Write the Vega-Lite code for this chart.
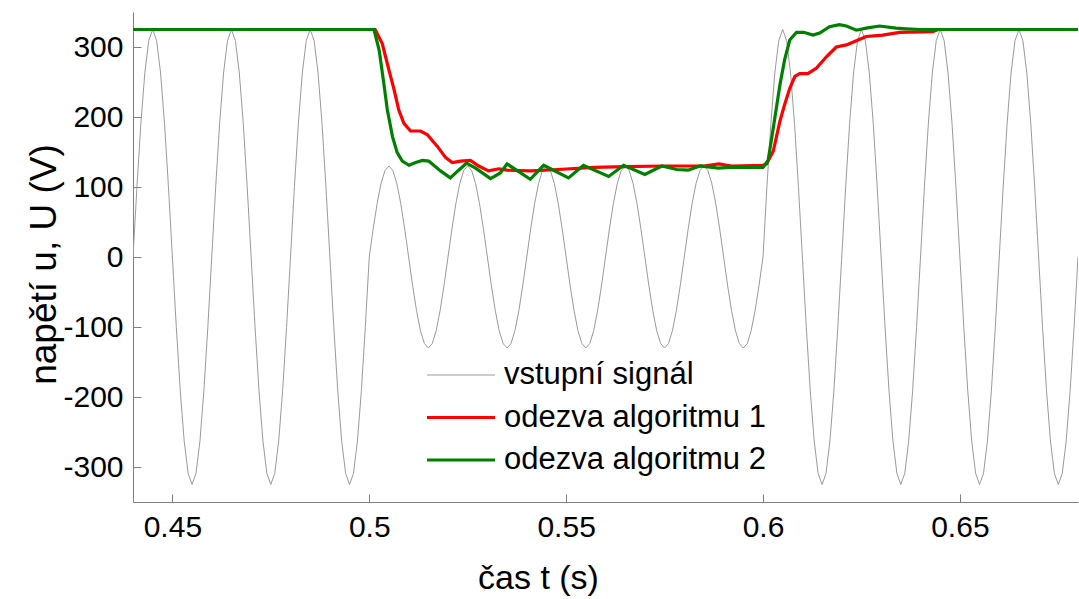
{
"$schema": "https://vega.github.io/schema/vega-lite/v6.json",
"width": 945, "height": 490,
"autosize": {"type": "none"},
"padding": {"left": 133, "top": 12, "right": 1, "bottom": 97},
"background": "white",
"config": {
 "font": "Liberation Sans",
 "view": {"stroke": null},
 "axis": {"grid": false, "domainColor": "#808080", "tickColor": "#808080", "tickSize": -8, "labelFont": "Liberation Sans", "labelFontSize": 30, "labelColor": "black", "titleFont": "Liberation Sans", "titleFontSize": 34, "titleFontWeight": "normal", "titleColor": "black"}
},
"data": {"values": [
{"t":0.440,"u":0,"s":"vstupní signál"},{"t":0.441,"u":100.4,"s":"vstupní signál"},{"t":0.442,"u":191,"s":"vstupní signál"},{"t":0.443,"u":262.9,"s":"vstupní signál"},{"t":0.444,"u":309.1,"s":"vstupní signál"},{"t":0.445,"u":325,"s":"vstupní signál"},{"t":0.446,"u":309.1,"s":"vstupní signál"},{"t":0.447,"u":262.9,"s":"vstupní signál"},{"t":0.448,"u":191,"s":"vstupní signál"},{"t":0.449,"u":100.4,"s":"vstupní signál"},
{"t":0.450,"u":0,"s":"vstupní signál"},{"t":0.451,"u":-100.4,"s":"vstupní signál"},{"t":0.452,"u":-191,"s":"vstupní signál"},{"t":0.453,"u":-262.9,"s":"vstupní signál"},{"t":0.454,"u":-309.1,"s":"vstupní signál"},{"t":0.455,"u":-325,"s":"vstupní signál"},{"t":0.456,"u":-309.1,"s":"vstupní signál"},{"t":0.457,"u":-262.9,"s":"vstupní signál"},{"t":0.458,"u":-191,"s":"vstupní signál"},{"t":0.459,"u":-100.4,"s":"vstupní signál"},
{"t":0.460,"u":0,"s":"vstupní signál"},{"t":0.461,"u":100.4,"s":"vstupní signál"},{"t":0.462,"u":191,"s":"vstupní signál"},{"t":0.463,"u":262.9,"s":"vstupní signál"},{"t":0.464,"u":309.1,"s":"vstupní signál"},{"t":0.465,"u":325,"s":"vstupní signál"},{"t":0.466,"u":309.1,"s":"vstupní signál"},{"t":0.467,"u":262.9,"s":"vstupní signál"},{"t":0.468,"u":191,"s":"vstupní signál"},{"t":0.469,"u":100.4,"s":"vstupní signál"},
{"t":0.470,"u":0,"s":"vstupní signál"},{"t":0.471,"u":-100.4,"s":"vstupní signál"},{"t":0.472,"u":-191,"s":"vstupní signál"},{"t":0.473,"u":-262.9,"s":"vstupní signál"},{"t":0.474,"u":-309.1,"s":"vstupní signál"},{"t":0.475,"u":-325,"s":"vstupní signál"},{"t":0.476,"u":-309.1,"s":"vstupní signál"},{"t":0.477,"u":-262.9,"s":"vstupní signál"},{"t":0.478,"u":-191,"s":"vstupní signál"},{"t":0.479,"u":-100.4,"s":"vstupní signál"},
{"t":0.480,"u":0,"s":"vstupní signál"},{"t":0.481,"u":100.4,"s":"vstupní signál"},{"t":0.482,"u":191,"s":"vstupní signál"},{"t":0.483,"u":262.9,"s":"vstupní signál"},{"t":0.484,"u":309.1,"s":"vstupní signál"},{"t":0.485,"u":325,"s":"vstupní signál"},{"t":0.486,"u":309.1,"s":"vstupní signál"},{"t":0.487,"u":262.9,"s":"vstupní signál"},{"t":0.488,"u":191,"s":"vstupní signál"},{"t":0.489,"u":100.4,"s":"vstupní signál"},
{"t":0.490,"u":0,"s":"vstupní signál"},{"t":0.491,"u":-100.4,"s":"vstupní signál"},{"t":0.492,"u":-191,"s":"vstupní signál"},{"t":0.493,"u":-262.9,"s":"vstupní signál"},{"t":0.494,"u":-309.1,"s":"vstupní signál"},{"t":0.495,"u":-325,"s":"vstupní signál"},{"t":0.496,"u":-309.1,"s":"vstupní signál"},{"t":0.497,"u":-262.9,"s":"vstupní signál"},{"t":0.498,"u":-191,"s":"vstupní signál"},{"t":0.499,"u":-100.4,"s":"vstupní signál"},
{"t":0.500,"u":0,"s":"vstupní signál"},{"t":0.501,"u":40.2,"s":"vstupní signál"},{"t":0.502,"u":76.4,"s":"vstupní signál"},{"t":0.503,"u":105.2,"s":"vstupní signál"},{"t":0.504,"u":123.6,"s":"vstupní signál"},{"t":0.505,"u":130,"s":"vstupní signál"},{"t":0.506,"u":123.6,"s":"vstupní signál"},{"t":0.507,"u":105.2,"s":"vstupní signál"},{"t":0.508,"u":76.4,"s":"vstupní signál"},{"t":0.509,"u":40.2,"s":"vstupní signál"},
{"t":0.510,"u":0,"s":"vstupní signál"},{"t":0.511,"u":-40.2,"s":"vstupní signál"},{"t":0.512,"u":-76.4,"s":"vstupní signál"},{"t":0.513,"u":-105.2,"s":"vstupní signál"},{"t":0.514,"u":-123.6,"s":"vstupní signál"},{"t":0.515,"u":-130,"s":"vstupní signál"},{"t":0.516,"u":-123.6,"s":"vstupní signál"},{"t":0.517,"u":-105.2,"s":"vstupní signál"},{"t":0.518,"u":-76.4,"s":"vstupní signál"},{"t":0.519,"u":-40.2,"s":"vstupní signál"},
{"t":0.520,"u":0,"s":"vstupní signál"},{"t":0.521,"u":40.2,"s":"vstupní signál"},{"t":0.522,"u":76.4,"s":"vstupní signál"},{"t":0.523,"u":105.2,"s":"vstupní signál"},{"t":0.524,"u":123.6,"s":"vstupní signál"},{"t":0.525,"u":130,"s":"vstupní signál"},{"t":0.526,"u":123.6,"s":"vstupní signál"},{"t":0.527,"u":105.2,"s":"vstupní signál"},{"t":0.528,"u":76.4,"s":"vstupní signál"},{"t":0.529,"u":40.2,"s":"vstupní signál"},
{"t":0.530,"u":0,"s":"vstupní signál"},{"t":0.531,"u":-40.2,"s":"vstupní signál"},{"t":0.532,"u":-76.4,"s":"vstupní signál"},{"t":0.533,"u":-105.2,"s":"vstupní signál"},{"t":0.534,"u":-123.6,"s":"vstupní signál"},{"t":0.535,"u":-130,"s":"vstupní signál"},{"t":0.536,"u":-123.6,"s":"vstupní signál"},{"t":0.537,"u":-105.2,"s":"vstupní signál"},{"t":0.538,"u":-76.4,"s":"vstupní signál"},{"t":0.539,"u":-40.2,"s":"vstupní signál"},
{"t":0.540,"u":0,"s":"vstupní signál"},{"t":0.541,"u":40.2,"s":"vstupní signál"},{"t":0.542,"u":76.4,"s":"vstupní signál"},{"t":0.543,"u":105.2,"s":"vstupní signál"},{"t":0.544,"u":123.6,"s":"vstupní signál"},{"t":0.545,"u":130,"s":"vstupní signál"},{"t":0.546,"u":123.6,"s":"vstupní signál"},{"t":0.547,"u":105.2,"s":"vstupní signál"},{"t":0.548,"u":76.4,"s":"vstupní signál"},{"t":0.549,"u":40.2,"s":"vstupní signál"},
{"t":0.550,"u":0,"s":"vstupní signál"},{"t":0.551,"u":-40.2,"s":"vstupní signál"},{"t":0.552,"u":-76.4,"s":"vstupní signál"},{"t":0.553,"u":-105.2,"s":"vstupní signál"},{"t":0.554,"u":-123.6,"s":"vstupní signál"},{"t":0.555,"u":-130,"s":"vstupní signál"},{"t":0.556,"u":-123.6,"s":"vstupní signál"},{"t":0.557,"u":-105.2,"s":"vstupní signál"},{"t":0.558,"u":-76.4,"s":"vstupní signál"},{"t":0.559,"u":-40.2,"s":"vstupní signál"},
{"t":0.560,"u":0,"s":"vstupní signál"},{"t":0.561,"u":40.2,"s":"vstupní signál"},{"t":0.562,"u":76.4,"s":"vstupní signál"},{"t":0.563,"u":105.2,"s":"vstupní signál"},{"t":0.564,"u":123.6,"s":"vstupní signál"},{"t":0.565,"u":130,"s":"vstupní signál"},{"t":0.566,"u":123.6,"s":"vstupní signál"},{"t":0.567,"u":105.2,"s":"vstupní signál"},{"t":0.568,"u":76.4,"s":"vstupní signál"},{"t":0.569,"u":40.2,"s":"vstupní signál"},
{"t":0.570,"u":0,"s":"vstupní signál"},{"t":0.571,"u":-40.2,"s":"vstupní signál"},{"t":0.572,"u":-76.4,"s":"vstupní signál"},{"t":0.573,"u":-105.2,"s":"vstupní signál"},{"t":0.574,"u":-123.6,"s":"vstupní signál"},{"t":0.575,"u":-130,"s":"vstupní signál"},{"t":0.576,"u":-123.6,"s":"vstupní signál"},{"t":0.577,"u":-105.2,"s":"vstupní signál"},{"t":0.578,"u":-76.4,"s":"vstupní signál"},{"t":0.579,"u":-40.2,"s":"vstupní signál"},
{"t":0.580,"u":0,"s":"vstupní signál"},{"t":0.581,"u":40.2,"s":"vstupní signál"},{"t":0.582,"u":76.4,"s":"vstupní signál"},{"t":0.583,"u":105.2,"s":"vstupní signál"},{"t":0.584,"u":123.6,"s":"vstupní signál"},{"t":0.585,"u":130,"s":"vstupní signál"},{"t":0.586,"u":123.6,"s":"vstupní signál"},{"t":0.587,"u":105.2,"s":"vstupní signál"},{"t":0.588,"u":76.4,"s":"vstupní signál"},{"t":0.589,"u":40.2,"s":"vstupní signál"},
{"t":0.590,"u":0,"s":"vstupní signál"},{"t":0.591,"u":-40.2,"s":"vstupní signál"},{"t":0.592,"u":-76.4,"s":"vstupní signál"},{"t":0.593,"u":-105.2,"s":"vstupní signál"},{"t":0.594,"u":-123.6,"s":"vstupní signál"},{"t":0.595,"u":-130,"s":"vstupní signál"},{"t":0.596,"u":-123.6,"s":"vstupní signál"},{"t":0.597,"u":-105.2,"s":"vstupní signál"},{"t":0.598,"u":-76.4,"s":"vstupní signál"},{"t":0.599,"u":-40.2,"s":"vstupní signál"},
{"t":0.600,"u":0,"s":"vstupní signál"},{"t":0.601,"u":100.4,"s":"vstupní signál"},{"t":0.602,"u":191,"s":"vstupní signál"},{"t":0.603,"u":262.9,"s":"vstupní signál"},{"t":0.604,"u":309.1,"s":"vstupní signál"},{"t":0.605,"u":325,"s":"vstupní signál"},{"t":0.606,"u":309.1,"s":"vstupní signál"},{"t":0.607,"u":262.9,"s":"vstupní signál"},{"t":0.608,"u":191,"s":"vstupní signál"},{"t":0.609,"u":100.4,"s":"vstupní signál"},
{"t":0.610,"u":0,"s":"vstupní signál"},{"t":0.611,"u":-100.4,"s":"vstupní signál"},{"t":0.612,"u":-191,"s":"vstupní signál"},{"t":0.613,"u":-262.9,"s":"vstupní signál"},{"t":0.614,"u":-309.1,"s":"vstupní signál"},{"t":0.615,"u":-325,"s":"vstupní signál"},{"t":0.616,"u":-309.1,"s":"vstupní signál"},{"t":0.617,"u":-262.9,"s":"vstupní signál"},{"t":0.618,"u":-191,"s":"vstupní signál"},{"t":0.619,"u":-100.4,"s":"vstupní signál"},
{"t":0.620,"u":0,"s":"vstupní signál"},{"t":0.621,"u":100.4,"s":"vstupní signál"},{"t":0.622,"u":191,"s":"vstupní signál"},{"t":0.623,"u":262.9,"s":"vstupní signál"},{"t":0.624,"u":309.1,"s":"vstupní signál"},{"t":0.625,"u":325,"s":"vstupní signál"},{"t":0.626,"u":309.1,"s":"vstupní signál"},{"t":0.627,"u":262.9,"s":"vstupní signál"},{"t":0.628,"u":191,"s":"vstupní signál"},{"t":0.629,"u":100.4,"s":"vstupní signál"},
{"t":0.630,"u":0,"s":"vstupní signál"},{"t":0.631,"u":-100.4,"s":"vstupní signál"},{"t":0.632,"u":-191,"s":"vstupní signál"},{"t":0.633,"u":-262.9,"s":"vstupní signál"},{"t":0.634,"u":-309.1,"s":"vstupní signál"},{"t":0.635,"u":-325,"s":"vstupní signál"},{"t":0.636,"u":-309.1,"s":"vstupní signál"},{"t":0.637,"u":-262.9,"s":"vstupní signál"},{"t":0.638,"u":-191,"s":"vstupní signál"},{"t":0.639,"u":-100.4,"s":"vstupní signál"},
{"t":0.640,"u":0,"s":"vstupní signál"},{"t":0.641,"u":100.4,"s":"vstupní signál"},{"t":0.642,"u":191,"s":"vstupní signál"},{"t":0.643,"u":262.9,"s":"vstupní signál"},{"t":0.644,"u":309.1,"s":"vstupní signál"},{"t":0.645,"u":325,"s":"vstupní signál"},{"t":0.646,"u":309.1,"s":"vstupní signál"},{"t":0.647,"u":262.9,"s":"vstupní signál"},{"t":0.648,"u":191,"s":"vstupní signál"},{"t":0.649,"u":100.4,"s":"vstupní signál"},
{"t":0.650,"u":0,"s":"vstupní signál"},{"t":0.651,"u":-100.4,"s":"vstupní signál"},{"t":0.652,"u":-191,"s":"vstupní signál"},{"t":0.653,"u":-262.9,"s":"vstupní signál"},{"t":0.654,"u":-309.1,"s":"vstupní signál"},{"t":0.655,"u":-325,"s":"vstupní signál"},{"t":0.656,"u":-309.1,"s":"vstupní signál"},{"t":0.657,"u":-262.9,"s":"vstupní signál"},{"t":0.658,"u":-191,"s":"vstupní signál"},{"t":0.659,"u":-100.4,"s":"vstupní signál"},
{"t":0.660,"u":0,"s":"vstupní signál"},{"t":0.661,"u":100.4,"s":"vstupní signál"},{"t":0.662,"u":191,"s":"vstupní signál"},{"t":0.663,"u":262.9,"s":"vstupní signál"},{"t":0.664,"u":309.1,"s":"vstupní signál"},{"t":0.665,"u":325,"s":"vstupní signál"},{"t":0.666,"u":309.1,"s":"vstupní signál"},{"t":0.667,"u":262.9,"s":"vstupní signál"},{"t":0.668,"u":191,"s":"vstupní signál"},{"t":0.669,"u":100.4,"s":"vstupní signál"},
{"t":0.670,"u":0,"s":"vstupní signál"},{"t":0.671,"u":-100.4,"s":"vstupní signál"},{"t":0.672,"u":-191,"s":"vstupní signál"},{"t":0.673,"u":-262.9,"s":"vstupní signál"},{"t":0.674,"u":-309.1,"s":"vstupní signál"},{"t":0.675,"u":-325,"s":"vstupní signál"},{"t":0.676,"u":-309.1,"s":"vstupní signál"},{"t":0.677,"u":-262.9,"s":"vstupní signál"},{"t":0.678,"u":-191,"s":"vstupní signál"},{"t":0.679,"u":-100.4,"s":"vstupní signál"},
{"t":0.680,"u":0,"s":"vstupní signál"},
{"t":0.44,"u":325,"s":"odezva algoritmu 1"},{"t":0.5015,"u":325,"s":"odezva algoritmu 1"},{"t":0.5033,"u":305,"s":"odezva algoritmu 1"},{"t":0.505,"u":267,"s":"odezva algoritmu 1"},{"t":0.5063,"u":239,"s":"odezva algoritmu 1"},{"t":0.5075,"u":210,"s":"odezva algoritmu 1"},{"t":0.5088,"u":191,"s":"odezva algoritmu 1"},{"t":0.5105,"u":180,"s":"odezva algoritmu 1"},{"t":0.513,"u":180,"s":"odezva algoritmu 1"},{"t":0.5147,"u":175,"s":"odezva algoritmu 1"},{"t":0.5173,"u":158,"s":"odezva algoritmu 1"},{"t":0.5194,"u":142,"s":"odezva algoritmu 1"},{"t":0.5211,"u":135,"s":"odezva algoritmu 1"},{"t":0.5232,"u":137,"s":"odezva algoritmu 1"},{"t":0.5257,"u":138,"s":"odezva algoritmu 1"},{"t":0.5278,"u":130,"s":"odezva algoritmu 1"},{"t":0.5303,"u":123,"s":"odezva algoritmu 1"},{"t":0.5329,"u":126,"s":"odezva algoritmu 1"},{"t":0.535,"u":124,"s":"odezva algoritmu 1"},{"t":0.541,"u":123,"s":"odezva algoritmu 1"},{"t":0.548,"u":125,"s":"odezva algoritmu 1"},{"t":0.557,"u":128,"s":"odezva algoritmu 1"},{"t":0.565,"u":129,"s":"odezva algoritmu 1"},{"t":0.575,"u":130,"s":"odezva algoritmu 1"},{"t":0.585,"u":130,"s":"odezva algoritmu 1"},{"t":0.5888,"u":133,"s":"odezva algoritmu 1"},{"t":0.592,"u":130,"s":"odezva algoritmu 1"},{"t":0.6,"u":131,"s":"odezva algoritmu 1"},{"t":0.6009,"u":133,"s":"odezva algoritmu 1"},{"t":0.6026,"u":151,"s":"odezva algoritmu 1"},{"t":0.6043,"u":194,"s":"odezva algoritmu 1"},{"t":0.6055,"u":218,"s":"odezva algoritmu 1"},{"t":0.6068,"u":241,"s":"odezva algoritmu 1"},{"t":0.6081,"u":258,"s":"odezva algoritmu 1"},{"t":0.6093,"u":262,"s":"odezva algoritmu 1"},{"t":0.6114,"u":262,"s":"odezva algoritmu 1"},{"t":0.6136,"u":270,"s":"odezva algoritmu 1"},{"t":0.6161,"u":286,"s":"odezva algoritmu 1"},{"t":0.6186,"u":300,"s":"odezva algoritmu 1"},{"t":0.6212,"u":303,"s":"odezva algoritmu 1"},{"t":0.6237,"u":309,"s":"odezva algoritmu 1"},{"t":0.6262,"u":315,"s":"odezva algoritmu 1"},{"t":0.6304,"u":317,"s":"odezva algoritmu 1"},{"t":0.6347,"u":321,"s":"odezva algoritmu 1"},{"t":0.6431,"u":322,"s":"odezva algoritmu 1"},{"t":0.6445,"u":325,"s":"odezva algoritmu 1"},{"t":0.68,"u":325,"s":"odezva algoritmu 1"},
{"t":0.44,"u":325,"s":"odezva algoritmu 2"},{"t":0.5012,"u":325,"s":"odezva algoritmu 2"},{"t":0.5025,"u":296,"s":"odezva algoritmu 2"},{"t":0.5037,"u":248,"s":"odezva algoritmu 2"},{"t":0.5046,"u":210,"s":"odezva algoritmu 2"},{"t":0.5059,"u":172,"s":"odezva algoritmu 2"},{"t":0.5071,"u":149,"s":"odezva algoritmu 2"},{"t":0.5084,"u":137,"s":"odezva algoritmu 2"},{"t":0.5101,"u":131,"s":"odezva algoritmu 2"},{"t":0.5118,"u":135,"s":"odezva algoritmu 2"},{"t":0.5135,"u":138,"s":"odezva algoritmu 2"},{"t":0.5151,"u":137,"s":"odezva algoritmu 2"},{"t":0.5181,"u":123,"s":"odezva algoritmu 2"},{"t":0.5206,"u":113,"s":"odezva algoritmu 2"},{"t":0.5227,"u":124,"s":"odezva algoritmu 2"},{"t":0.5247,"u":134,"s":"odezva algoritmu 2"},{"t":0.527,"u":127,"s":"odezva algoritmu 2"},{"t":0.5308,"u":112,"s":"odezva algoritmu 2"},{"t":0.5333,"u":120,"s":"odezva algoritmu 2"},{"t":0.535,"u":133,"s":"odezva algoritmu 2"},{"t":0.5409,"u":111,"s":"odezva algoritmu 2"},{"t":0.5443,"u":131,"s":"odezva algoritmu 2"},{"t":0.5506,"u":113,"s":"odezva algoritmu 2"},{"t":0.5544,"u":131,"s":"odezva algoritmu 2"},{"t":0.5608,"u":115,"s":"odezva algoritmu 2"},{"t":0.5646,"u":131,"s":"odezva algoritmu 2"},{"t":0.57,"u":118,"s":"odezva algoritmu 2"},{"t":0.5743,"u":130,"s":"odezva algoritmu 2"},{"t":0.5781,"u":125,"s":"odezva algoritmu 2"},{"t":0.581,"u":124,"s":"odezva algoritmu 2"},{"t":0.584,"u":130,"s":"odezva algoritmu 2"},{"t":0.5886,"u":127,"s":"odezva algoritmu 2"},{"t":0.5916,"u":128,"s":"odezva algoritmu 2"},{"t":0.6,"u":128,"s":"odezva algoritmu 2"},{"t":0.6013,"u":138,"s":"odezva algoritmu 2"},{"t":0.6026,"u":184,"s":"odezva algoritmu 2"},{"t":0.6043,"u":246,"s":"odezva algoritmu 2"},{"t":0.6055,"u":282,"s":"odezva algoritmu 2"},{"t":0.6068,"u":310,"s":"odezva algoritmu 2"},{"t":0.6085,"u":321,"s":"odezva algoritmu 2"},{"t":0.6103,"u":321,"s":"odezva algoritmu 2"},{"t":0.6127,"u":317,"s":"odezva algoritmu 2"},{"t":0.6144,"u":320,"s":"odezva algoritmu 2"},{"t":0.6169,"u":329,"s":"odezva algoritmu 2"},{"t":0.6194,"u":332,"s":"odezva algoritmu 2"},{"t":0.6212,"u":330,"s":"odezva algoritmu 2"},{"t":0.6237,"u":324,"s":"odezva algoritmu 2"},{"t":0.6262,"u":327,"s":"odezva algoritmu 2"},{"t":0.6296,"u":330,"s":"odezva algoritmu 2"},{"t":0.6338,"u":327,"s":"odezva algoritmu 2"},{"t":0.6364,"u":326,"s":"odezva algoritmu 2"},{"t":0.64,"u":325,"s":"odezva algoritmu 2"},{"t":0.68,"u":325,"s":"odezva algoritmu 2"}
]},
"mark": {"type": "line", "clip": true},
"encoding": {
 "x": {"field": "t", "type": "quantitative", "scale": {"domain": [0.44, 0.68], "nice": false, "zero": false},
  "axis": {"values": [0.45, 0.5, 0.55, 0.6, 0.65], "format": ".2~f", "title": "čas t (s)", "labelPadding": 18, "titleX": 405, "titleY": 86, "titleBaseline": "alphabetic"}},
 "y": {"field": "u", "type": "quantitative", "scale": {"domain": [-350, 350], "nice": false, "zero": false},
  "axis": {"values": [-300, -200, -100, 0, 100, 200, 300], "labelExpr": "datum.value + ''", "title": "napětí u, U (V)", "labelPadding": 18, "titleX": -78, "titleY": 252, "titleFontSize": 37, "titleAngle": -90, "titleBaseline": "alphabetic"}},
 "color": {"field": "s", "type": "nominal", "scale": {"domain": ["vstupní signál", "odezva algoritmu 1", "odezva algoritmu 2"], "range": ["#9a9a9a", "#ff0000", "#008000"]},
  "legend": {"title": null, "orient": "none", "legendX": 292, "legendY": 348, "symbolType": "stroke", "symbolSize": 4624, "clipHeight": 30, "labelFontSize": 31, "labelFont": "Liberation Sans", "labelColor": "black", "labelOffset": 7, "labelLimit": 600, "padding": 0, "rowPadding": 11.5}},
 "strokeWidth": {"field": "s", "type": "nominal", "scale": {"type": "ordinal", "domain": ["vstupní signál", "odezva algoritmu 1", "odezva algoritmu 2"], "range": [1, 3.2, 3.2]},
  "legend": {"title": null, "orient": "none", "legendX": 292, "legendY": 348, "symbolType": "stroke", "symbolSize": 4624, "clipHeight": 30, "labelFontSize": 31, "labelFont": "Liberation Sans", "labelColor": "black", "labelOffset": 7, "labelLimit": 600, "padding": 0, "rowPadding": 11.5}}
}
}
